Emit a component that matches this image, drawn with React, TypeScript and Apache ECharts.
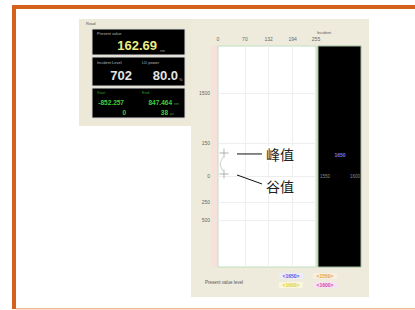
import React, { useEffect, useRef } from "react";
import * as echarts from "echarts";

// ---- data ----
const xTicks = [0, 70, 132, 194, 255];
const yTickPos = [21.3, 43.9, 58.8, 70.6, 78.7];
const yTickLabels = ["1500", "150", "0", "250", "500"];
const peakPoint = [15.6, 48.4];
const valleyPoint = [15.6, 57.9];
const spectrumCurve = [
  [14, 50.2],
  [8.5, 51.8],
  [6, 53.4],
  [8.5, 55.2],
  [14, 56.6],
];
const levelLabels = ["<1650>", "<1550>", "<1600>", "<1600>"];
const levelColors = ["#5656e0", "#e6a048", "#dcd040", "#d448b0"];
const levelBg = ["#ececf8", "#f8efe0", "#f8f6dc", "#f6e2f0"];
const barLabels = ["1650", "1550", "1600"];
const presentValue = "162.69";
const incidentLevel = "702";
const ldPower = "80.0";
const startValue = "-852.257";
const endValue = "847.464";
const startTime = "0";
const endTime = "38";
const annotations = ["峰值", "谷值"];

const FONT = "Liberation Sans, Arial, sans-serif";

function txt(
  text: string,
  x: number,
  y: number,
  fill: string,
  fontSize: number,
  opts: any = {}
) {
  return {
    type: "text",
    z: 20,
    silent: true,
    style: {
      text,
      x,
      y,
      fill,
      fontSize,
      fontFamily: opts.fontFamily || FONT,
      fontWeight: opts.fontWeight || "normal",
      align: opts.align || "left",
      verticalAlign: "middle",
      ...(opts.bg ? { backgroundColor: opts.bg, padding: [1, 2] } : {}),
    },
  };
}

function rect(x: number, y: number, w: number, h: number, fill: string, z = -10, stroke?: string) {
  return {
    type: "rect",
    z,
    silent: true,
    shape: { x, y, width: w, height: h },
    style: { fill, stroke: stroke || null, lineWidth: 1 },
  };
}

export default function App() {
  const ref = useRef<HTMLDivElement>(null);

  useEffect(() => {
    const chart = echarts.init(ref.current!, null, {
      renderer: "svg",
      width: 415,
      height: 310,
    });

    chart.setOption({
      animation: false,
      backgroundColor: "#ffffff",
      textStyle: { fontFamily: FONT },
      grid: {
        left: 218,
        top: 46,
        width: 98,
        height: 221,
        show: true,
        backgroundColor: "#ffffff",
        borderColor: "#bfe0bf",
        borderWidth: 1,
        z: 1,
      },
      xAxis: {
        type: "value",
        position: "top",
        min: 0,
        max: 255,
        axisLine: { show: false },
        axisTick: { show: false },
        splitLine: { show: false },
        axisLabel: {
          customValues: xTicks,
          fontSize: 5,
          color: "#666",
          margin: 5,
          formatter: (v: number) => String(v),
        },
      },
      yAxis: {
        type: "value",
        min: 0,
        max: 100,
        inverse: true,
        axisLine: { show: false },
        axisTick: { show: false },
        splitLine: { show: false },
        axisLabel: {
          customValues: yTickPos,
          fontSize: 5,
          color: "#666",
          margin: 8,
          formatter: (v: number) => {
            let best = 0;
            yTickPos.forEach((p, i) => {
              if (Math.abs(p - v) < Math.abs(yTickPos[best] - v)) best = i;
            });
            return yTickLabels[best];
          },
        },
      },
      series: [
        {
          type: "line",
          data: spectrumCurve,
          smooth: true,
          showSymbol: false,
          lineStyle: { color: "#cccccc", width: 1 },
          z: 3,
          silent: true,
        },
        {
          type: "scatter",
          data: [peakPoint, valleyPoint],
          symbol: "path://M4.5,0h1v10h-1zM0,4.5h10v1h-10z",
          symbolSize: 9,
          itemStyle: { color: "#999999" },
          z: 5,
          silent: true,
          markLine: {
            silent: true,
            symbol: "none",
            label: { show: false },
            emphasis: { disabled: true },
            lineStyle: { color: "#eeeeee", width: 1, type: "solid" },
            data: [
              ...xTicks.slice(1, -1).map((v) => ({ xAxis: v })),
              ...yTickPos.map((v) => ({ yAxis: v })),
            ],
          },
        },
      ],
    });

    const pk = chart.convertToPixel({ gridIndex: 0 }, peakPoint) as number[];
    const vl = chart.convertToPixel({ gridIndex: 0 }, valleyPoint) as number[];

    const graphic: any[] = [
      // outer orange frame
      rect(12, 5, 403, 4, "#d4621c", 30),
      rect(12, 5, 4, 304, "#d4621c", 30),
      rect(16, 308, 399, 1.5, "#f2b896", 30),
      // left panel
      rect(79, 19, 113, 107, "#ece9d8", -10),
      txt("Read", 86, 23, "#555", 4),
      rect(92, 29, 93, 26, "#000", -5, "#d8d8d8"),
      rect(92, 57, 93, 29, "#000", -5, "#d8d8d8"),
      rect(92, 88, 93, 30, "#000", -5, "#d8d8d8"),
      txt("Present value", 97, 33, "#b8b8b8", 4),
      txt(presentValue, 157, 45, "#ecec84", 13, { fontWeight: "bold", align: "right" }),
      txt("nm", 160, 51, "#999", 3.5),
      txt("Incident Level", 97, 62, "#b8b8b8", 4),
      txt("LD power", 142, 62, "#b8b8b8", 4),
      txt(incidentLevel, 132, 75, "#e4e4e4", 13, { fontWeight: "bold", align: "right" }),
      txt(ldPower, 178, 75, "#e4e4e4", 13, { fontWeight: "bold", align: "right" }),
      txt("%", 179, 79, "#bbb", 4),
      txt("Start", 97, 92, "#2f9a2f", 4),
      txt("End", 142, 92, "#2f9a2f", 4),
      txt(startValue, 124, 102, "#3fd03f", 6.5, { fontWeight: "bold", align: "right" }),
      txt(endValue, 172, 102, "#3fd03f", 6.5, { fontWeight: "bold", align: "right" }),
      txt("nm", 174, 104, "#3a9a3a", 3.5),
      txt(startTime, 126, 112, "#3fd03f", 6.5, { fontWeight: "bold", align: "right" }),
      txt(endTime, 168, 112, "#3fd03f", 6.5, { fontWeight: "bold", align: "right" }),
      txt("µs", 170, 114, "#3a9a3a", 3.5),
      // right panel
      rect(191, 19, 178, 278, "#eeebdd", -10),
      rect(211, 46, 7, 221, "#f6e2da", -4),
      txt("Incident", 317, 32, "#555", 4),
      // black bar panel
      rect(318, 46, 43, 221, "#000", 2, "#9bb89b"),
      txt(barLabels[0], 340, 155, "#7a7ae6", 5, { align: "center", fontWeight: "bold" }),
      txt(barLabels[1], 325, 176, "#8a8a8a", 4.5, { align: "center" }),
      txt(barLabels[2], 355, 176, "#8a8a8a", 4.5, { align: "center" }),
      // bottom legend
      txt("Present value level", 205, 282, "#555", 4.5),
    ];

    const legendPos = [
      [291, 276],
      [325, 276],
      [291, 285],
      [325, 285],
    ];
    levelLabels.forEach((l, i) => {
      graphic.push(rect(legendPos[i][0] - 12, legendPos[i][1] - 3, 24, 6, levelBg[i], -3));
      graphic.push(
        txt(l, legendPos[i][0], legendPos[i][1], levelColors[i], 5, {
          align: "center",
          fontWeight: "bold",
        })
      );
    });

    // annotations
    graphic.push({
      type: "line",
      z: 20,
      silent: true,
      shape: { x1: pk[0] + 13, y1: pk[1] + 1, x2: pk[0] + 38, y2: pk[1] + 1 },
      style: { stroke: "#111", lineWidth: 1 },
    });
    graphic.push({
      type: "line",
      z: 20,
      silent: true,
      shape: { x1: vl[0] + 13, y1: vl[1] + 1, x2: vl[0] + 38, y2: vl[1] + 10 },
      style: { stroke: "#111", lineWidth: 1 },
    });
    graphic.push(
      txt(annotations[0], pk[0] + 40, pk[1] + 1, "#222", 14, {
        fontFamily: "Noto Sans CJK SC, sans-serif",
        bg: "#ffffff",
      })
    );
    graphic.push(
      txt(annotations[1], vl[0] + 40, vl[1] + 12, "#222", 14, {
        fontFamily: "Noto Sans CJK SC, sans-serif",
        bg: "#ffffff",
      })
    );

    chart.setOption({ graphic });

    return () => chart.dispose();
  }, []);

  return (
    <div
      ref={ref}
      style={{ position: "fixed", left: 0, top: 0, width: 415, height: 310, background: "#fff" }}
    />
  );
}
